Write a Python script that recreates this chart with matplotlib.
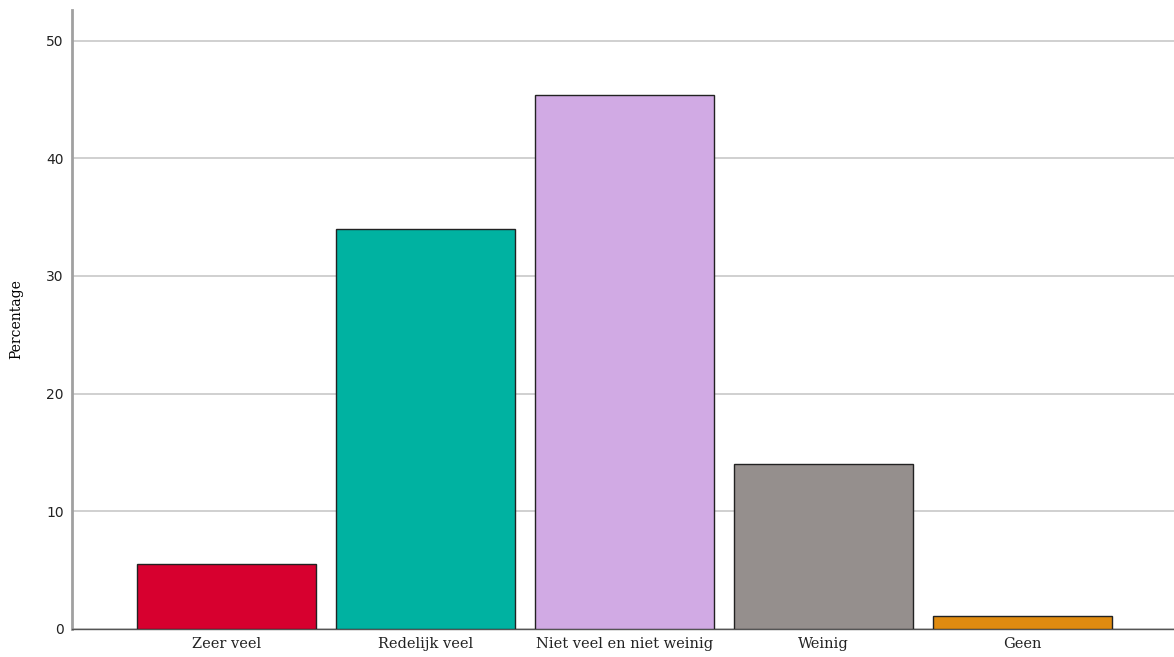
import matplotlib
matplotlib.use('Agg')
import matplotlib.pyplot as plt

categories = ['Zeer veel', 'Redelijk veel', 'Niet veel en niet weinig', 'Weinig', 'Geen']
percentages = [5.5, 34.0, 45.4, 14.0, 1.1]
colors = ['#D7002F', '#00B2A1', '#D1AAE4', '#958F8D', '#E08B10']
yticks = [0, 10, 20, 30, 40, 50]

fig = plt.figure(figsize=(11.74, 6.57), dpi=100)
ax = fig.add_axes([72 / 1174, 28 / 657, 1 - 72 / 1174, 619 / 657])

x = range(len(categories))
ax.bar(x, percentages, width=0.9, color=colors, edgecolor='#222222', linewidth=1.0, zorder=3)

ax.set_xlim(-0.776, 4.76)
ax.set_ylim(0, 52.6)
ax.set_yticks(yticks)
ax.set_yticklabels([str(t) for t in yticks], fontsize=10, family='DejaVu Sans', color='#222222')
ax.set_xticks(list(x))
ax.set_xticklabels(categories, fontsize=10.5, family='DejaVu Serif', color='#222222')
ax.tick_params(axis='both', length=0, pad=6)
ax.set_ylabel('Percentage', fontsize=10, family='DejaVu Serif')
ax.yaxis.set_label_coords(-0.044, 0.5)

ax.grid(axis='y', color='#C8C8C8', linewidth=1.2, zorder=0)
for s in ['top', 'right']:
    ax.spines[s].set_visible(False)
ax.spines['left'].set_color('#A0A0A0')
ax.spines['left'].set_linewidth(2)
ax.spines['bottom'].set_color('#555555')
ax.spines['bottom'].set_linewidth(1)

fig.savefig('out.png', dpi=100)
